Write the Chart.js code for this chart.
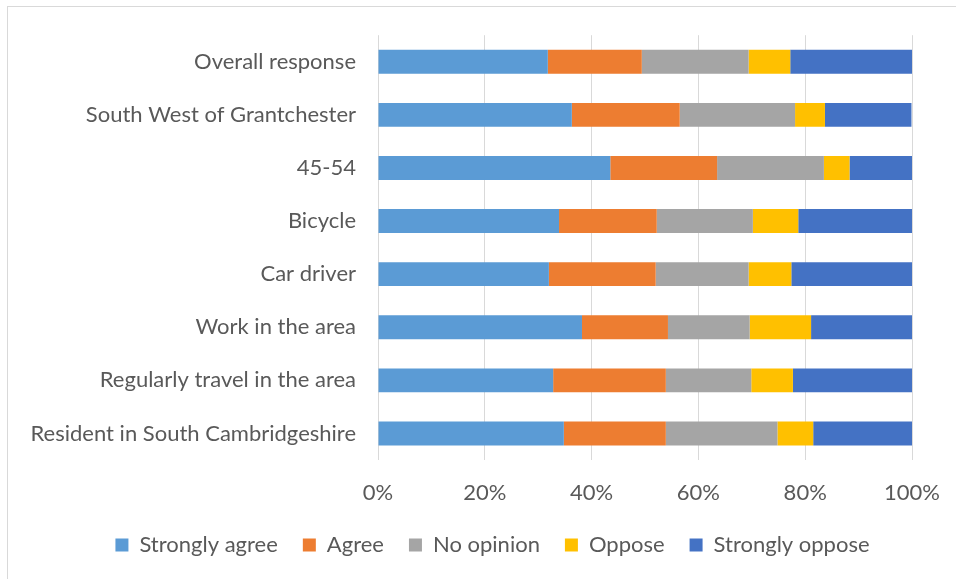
<!DOCTYPE html>
<html>
<head>
<meta charset="utf-8">
<script src="https://cdn.jsdelivr.net/npm/chart.js@4/dist/chart.umd.min.js"></script>
<style>
  html, body { margin: 0; padding: 0; background: #fff; }
  #wrap { position: relative; width: 956px; height: 579px; overflow: hidden; }
  #frame { position: absolute; left: 7px; top: 6px; width: 960px; height: 600px; border: 1px solid #d9d9d9; box-sizing: border-box; }
  canvas { position: absolute; left: 0; top: 0; }
</style>
</head>
<body>
<div id="wrap">
  <div id="frame"></div>
  <canvas id="surveyChart" width="956" height="579"></canvas>
</div>
<script>
// Categories, top to bottom as in the picture
const groups = [
    'Overall response',
    'South West of Grantchester',
    '45-54',
    'Bicycle',
    'Car driver',
    'Work in the area',
    'Regularly travel in the area',
    'Resident in South Cambridgeshire'
];
// Share of responses (%) per answer, same order as groups
const stronglyAgree = [31.8, 36.3, 43.5, 33.9, 32.0, 38.2, 32.8, 34.8];
const agree = [17.6, 20.2, 20.0, 18.3, 20.0, 16.1, 21.1, 19.1];
const noOpinion = [20.0, 21.6, 20.0, 18.0, 17.4, 15.3, 16.0, 20.9];
const oppose = [7.8, 5.6, 4.8, 8.5, 8.0, 11.5, 7.8, 6.7];
const stronglyOppose = [22.8, 16.2, 11.7, 21.3, 22.6, 19.0, 22.3, 18.5];
const xTicks = [0, 20, 40, 60, 80, 100];

const font = 'Lato, "Open Sans", sans-serif';
const textColor = '#595959';

const surveyElement = document.querySelector('#surveyChart');

function series(label, data, color) {
    return {
        label: label,
        data: data,
        backgroundColor: color,
        borderWidth: 0,
        categoryPercentage: 1,
        barPercentage: 0.45
    };
}

// Push the legend a bit right so it's centred like the original
const legendShift = {
    id: 'legendShift',
    afterLayout(chart) {
        chart.legend.left += 73;
    }
};

const surveyChart = new Chart(surveyElement, {
    type: 'bar',
    data: {
        labels: groups,
        datasets: [
            series('Strongly agree', stronglyAgree, '#5B9BD5'),
            series('Agree', agree, '#ED7D31'),
            series('No opinion', noOpinion, '#A5A5A5'),
            series('Oppose', oppose, '#FFC000'),
            series('Strongly oppose', stronglyOppose, '#4472C4')
        ]
    },
    options: {
        indexAxis: 'y',
        responsive: false,
        animation: false,
        layout: { padding: { top: 35, right: 44, left: 0, bottom: 13 } },
        scales: {
            x: {
                stacked: true,
                min: 0,
                max: 100,
                afterBuildTicks: (axis) => { axis.ticks = xTicks.map(v => ({ value: v })); },
                afterFit: (axis) => {
                    axis.height = 49;
                    axis.paddingLeft = 0;
                    axis.paddingRight = 0;
                },
                border: { display: false },
                grid: { color: '#d9d9d9', lineWidth: 1, drawTicks: false },
                ticks: {
                    padding: 20,
                    color: textColor,
                    font: { family: font, size: 22 },
                    callback: (v) => v + '%'
                }
            },
            y: {
                stacked: true,
                afterFit: (axis) => { axis.width = 378; },
                border: { display: false },
                grid: { display: false, drawTicks: false },
                ticks: {
                    padding: 22,
                    color: textColor,
                    font: { family: font, size: 22 }
                }
            }
        },
        plugins: {
            tooltip: { enabled: false },
            legend: {
                position: 'bottom',
                labels: {
                    color: textColor,
                    font: { family: font, size: 22 },
                    boxWidth: 13,
                    boxHeight: 13,
                    padding: 25
                }
            }
        }
    },
    plugins: [legendShift]
});
</script>
</body>
</html>
